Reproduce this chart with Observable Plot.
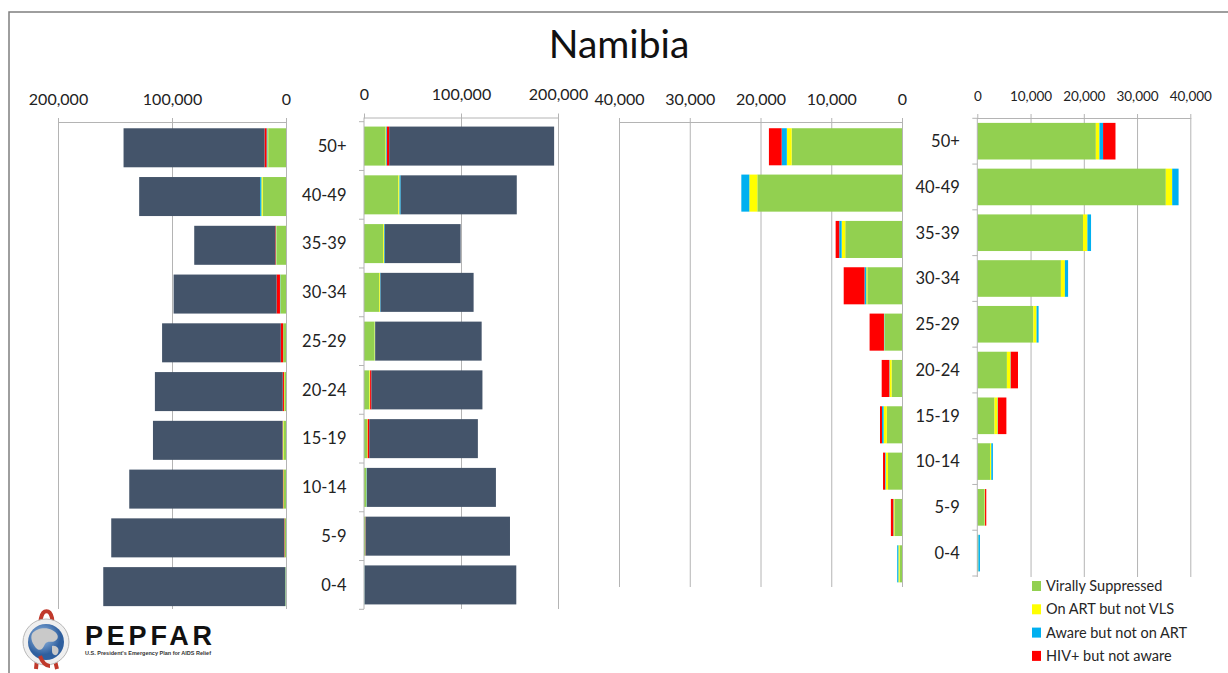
<!DOCTYPE html>
<html><head><meta charset="utf-8">
<script src="https://cdn.jsdelivr.net/npm/d3@7"></script>
<script src="https://cdn.jsdelivr.net/npm/@observablehq/plot@0.6"></script>
<style>
html,body{margin:0;padding:0;background:#fff;}
#page{position:relative;width:1228px;height:673px;overflow:hidden;font-family:Lato,"Open Sans",sans-serif;background:#fff;}
#page svg{position:absolute;left:0;top:0;}
</style></head><body><div id="page"></div>
<script>
const title = "Namibia";
const ages = ["50+","40-49","35-39","30-34","25-29","20-24","15-19","10-14","5-9","0-4"];
const categories = ["Virally Suppressed","On ART but not VLS","Aware but not on ART","HIV+ but not aware","HIV negative"];
const legendLabels = ["Virally Suppressed","On ART but not VLS","Aware but not on ART","HIV+ but not aware"];
const colors = ["#92D050","#FFFF00","#00B0F0","#FF0000","#44546A"];

// total population by age (left and right pyramids)
const popLeft  = [142500,128800,80500,98600,108700,115000,116700,137500,153300,160300];
const popRight = [196000,157500,99600,113000,121300,122100,117400,136000,150500,157000];

// HIV cascade, left side
const vlsLeft     = [15600,20450,8020,4900,2430,1470,2150,1980,1070,340];
const artLeft     = [680,1130,510,150,60,280,450,340,110,170];
const awareLeft   = [730,1130,340,250,60,50,230,80,50,170];
const unawareLeft = [1800,0,510,2940,2030,1070,280,280,340,0];

// HIV cascade, right side
const vlsRight     = [22260,35400,19850,15700,10530,5560,3230,2400,1350,150];
const artRight     = [680,1200,830,750,600,680,600,230,75,50];
const awareRight   = [680,1200,680,600,380,50,50,300,30,300];
const unawareRight = [2330,0,0,0,0,1350,1580,0,230,0];

const popTicks = [0,100000,200000];
const hivTicks = [0,10000,20000,30000,40000];

function rows(pop, vls, art, aware, unaware) {
  const out = [];
  ages.forEach((age, i) => {
    const parts = [vls[i], art[i], aware[i], unaware[i]];
    if (pop) parts.push(pop[i] - d3.sum(parts));
    parts.forEach((v, j) => out.push({age, cat: categories[j], value: v}));
  });
  return out;
}

const W = 1228, H = 673;
const page = document.getElementById("page");
const fmt = d3.format(",");
const GRID = "#b4b4b4";

function panel({data, domain, ticks, grid, reverse, x0, x1, top, y0, y1, bottom, tickFont, catAxis}) {
  const marks = [
    Plot.gridX(grid, {stroke: GRID, strokeOpacity: 1, strokeWidth: 1}),
    Plot.barX(data, {y: "age", x: "value", fill: "cat"}),
    Plot.axisX({anchor: "top", ticks, tickFormat: fmt, tickSize: 5, tickPadding: 13, label: null,
                stroke: GRID, strokeOpacity: 1, fill: "#222", fontSize: tickFont})
  ];
  if (catAxis) marks.push(Plot.axisY({anchor: "left", tickSize: 0, tickPadding: 18, label: null, fill: "#222", fontSize: 16.5}));
  const chart = Plot.plot({
    width: W, height: H,
    marginLeft: x0, marginRight: W - x1, marginTop: top, marginBottom: H - bottom,
    style: {background: "transparent", fontFamily: "Lato, 'Open Sans', sans-serif", color: "#222", overflow: "visible"},
    x: {domain, reverse, axis: null, label: null},
    y: {type: "band", domain: ages, range: [y0, y1], paddingInner: 0.2, paddingOuter: 0.1, round: false, label: null,
        axis: catAxis ? undefined : null},
    color: {domain: categories, range: colors},
    marks
  });
  // axis lines
  const sx = chart.scale("x"), sy = chart.scale("y");
  const g = d3.select(chart).append("g").attr("stroke", GRID).attr("stroke-width", 1);
  const xa = sx.apply(domain[0]), xb = sx.apply(domain[1]);
  g.append("line").attr("x1", Math.min(xa, xb)).attr("x2", Math.max(xa, xb)).attr("y1", top + 0.5).attr("y2", top + 0.5);
  if (catAxis) {
    const step = sy.apply(ages[1]) - sy.apply(ages[0]);
    const gap = (step - sy.bandwidth) / 2;
    g.append("line").attr("x1", xa).attr("x2", xa).attr("y1", top).attr("y2", bottom);
    const bounds = ages.map(a => sy.apply(a) - gap);
    bounds.push(sy.apply(ages[ages.length - 1]) + sy.bandwidth + gap);
    bounds.forEach(b => g.append("line").attr("x1", xa - 5).attr("x2", xa).attr("y1", b).attr("y2", b));
  }
  page.appendChild(chart);
}

panel({data: rows(popLeft, vlsLeft, artLeft, awareLeft, unawareLeft), domain: [0, 200000], ticks: popTicks, grid: popTicks,
  reverse: true, x0: 58, x1: 286, top: 122, y0: 123.4, y1: 611, bottom: 609, tickFont: 16, catAxis: false});
panel({data: rows(popRight, vlsRight, artRight, awareRight, unawareRight), domain: [0, 200000], ticks: popTicks, grid: popTicks.slice(1),
  reverse: false, x0: 364, x1: 558, top: 117.5, y0: 121.7, y1: 609.3, bottom: 609, tickFont: 16, catAxis: true});
panel({data: rows(null, vlsLeft, artLeft, awareLeft, unawareLeft), domain: [0, 40000], ticks: hivTicks, grid: hivTicks,
  reverse: true, x0: 619, x1: 902, top: 122, y0: 123.6, y1: 587, bottom: 587, tickFont: 16, catAxis: false});
panel({data: rows(null, vlsRight, artRight, awareRight, unawareRight), domain: [0, 40000], ticks: hivTicks, grid: hivTicks.slice(1),
  reverse: false, x0: 977.3, x1: 1190.3, top: 118, y0: 118.3, y1: 576, bottom: 577, tickFont: 13.5, catAxis: true});

// overlay: frame, title, legend, logo
const svg = d3.select(page).append("svg").attr("width", W).attr("height", H)
  .style("font-family", "Lato, 'Open Sans', sans-serif");
svg.append("path").attr("d", `M9,${H} V12 H${W}`).attr("fill", "none").attr("stroke", "#7f7f7f").attr("stroke-width", 1.5);
svg.append("text").attr("x", 619).attr("y", 58).attr("text-anchor", "middle").attr("font-size", 39).attr("fill", "#111").text(title);

const leg = svg.append("g");
legendLabels.forEach((lab, i) => {
  const cy = 586 + i * 23.3;
  leg.append("rect").attr("x", 1032).attr("y", cy - 5).attr("width", 9).attr("height", 10).attr("fill", colors[i]);
  leg.append("text").attr("x", 1046).attr("y", cy).attr("dy", "0.35em").attr("font-size", 14.5).attr("fill", "#262626").text(lab);
});

// PEPFAR logo
const logo = svg.append("g");
const grad = svg.append("defs").append("radialGradient").attr("id", "globe").attr("cx", "40%").attr("cy", "35%");
grad.append("stop").attr("offset", "0%").attr("stop-color", "#9fc3ea");
grad.append("stop").attr("offset", "100%").attr("stop-color", "#2f5f9e");
logo.append("path").attr("d", "M36,669 C38,650 39,628 41,618 C43,609 50,609 52,618 C54,630 52,652 57,669")
  .attr("fill", "none").attr("stroke", "#c0392b").attr("stroke-width", 4);
logo.append("circle").attr("cx", 46).attr("cy", 642).attr("r", 23).attr("fill", "#efefef").attr("stroke", "#b8b8b8");
logo.append("circle").attr("cx", 46).attr("cy", 642).attr("r", 18).attr("fill", "url(#globe)");
logo.append("path").attr("d", "M32,634 C36,628 46,627 52,630 C58,633 60,638 55,641 C51,643 48,640 45,644 C43,649 40,652 36,648 C33,644 30,639 32,634 Z")
  .attr("fill", "#c9c9c9");
logo.append("path").attr("d", "M52,646 C56,645 60,648 58,653 C56,657 52,655 52,651 Z").attr("fill", "#c9c9c9");
logo.append("path").attr("d", "M40,656 C42,662 46,666 50,666").attr("fill", "none").attr("stroke", "#c0392b").attr("stroke-width", 4);
logo.append("text").attr("x", 85).attr("y", 645).attr("font-family", "'Liberation Sans', Arial, sans-serif")
  .attr("font-weight", "bold").attr("font-size", 27).attr("textLength", 127).attr("lengthAdjust", "spacing").attr("fill", "#111").text("PEPFAR");
logo.append("text").attr("x", 85).attr("y", 655).attr("font-family", "'Liberation Sans', Arial, sans-serif")
  .attr("font-weight", "bold").attr("font-size", 5.6).attr("textLength", 126).attr("lengthAdjust", "spacingAndGlyphs").attr("fill", "#333")
  .text("U.S. President's Emergency Plan for AIDS Relief");
</script></body></html>
